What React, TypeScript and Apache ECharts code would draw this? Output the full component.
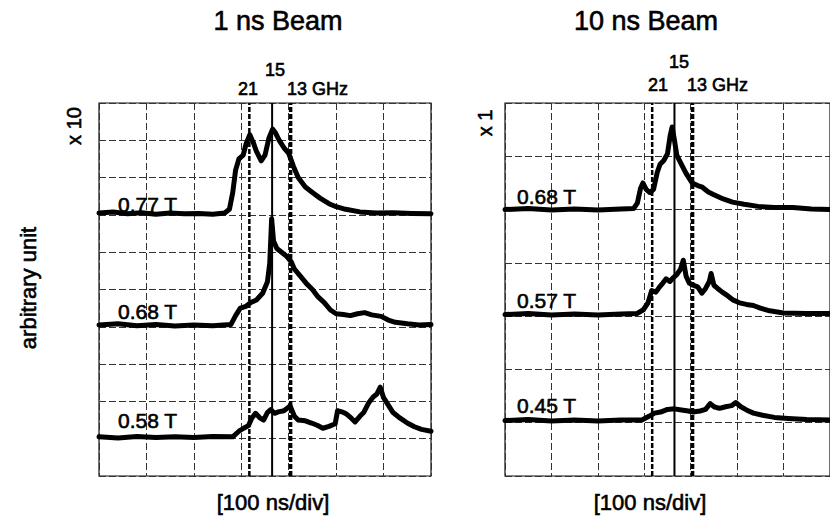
import React, { useEffect, useRef } from "react";
import * as echarts from "echarts";

// ---- data (x in divisions of 100 ns, y in vertical divisions) ----
const markerX = [3.17, 3.65, 4.04]; // 21 GHz, 15 GHz, 13 GHz

const left077: [number, number][] = [[0,7.05],[0.3,7.08],[0.6,7.03],[0.9,7.06],[1.2,7.02],[1.5,7.05],[1.8,7.03],[2.1,7.04],[2.4,7.02],[2.65,7.05],[2.75,7.15],[2.82,7.6],[2.88,8.2],[2.95,8.5],[3.04,8.6],[3.1,8.9],[3.18,9.15],[3.25,8.95],[3.32,8.7],[3.42,8.45],[3.5,8.6],[3.58,9.05],[3.66,9.3],[3.72,9.2],[3.8,9.0],[3.9,8.8],[4.0,8.65],[4.1,8.3],[4.2,8.0],[4.35,7.75],[4.5,7.6],[4.66,7.45],[4.85,7.3],[5.0,7.22],[5.2,7.15],[5.5,7.08],[5.85,7.05],[6.2,7.06],[6.6,7.04],[7.0,7.03]];
const left068: [number, number][] = [[0,4.05],[0.4,4.08],[0.8,4.03],[1.2,4.06],[1.6,4.02],[2.0,4.05],[2.4,4.03],[2.78,4.06],[2.88,4.3],[2.98,4.5],[3.1,4.55],[3.2,4.65],[3.32,4.72],[3.45,4.9],[3.55,5.2],[3.6,5.7],[3.64,6.9],[3.68,6.3],[3.75,6.1],[3.85,6.0],[3.95,5.9],[4.05,5.75],[4.12,5.55],[4.25,5.35],[4.38,5.15],[4.5,5.0],[4.62,4.8],[4.75,4.65],[4.88,4.45],[5.0,4.35],[5.15,4.33],[5.3,4.3],[5.45,4.35],[5.6,4.38],[5.75,4.32],[5.95,4.28],[6.1,4.18],[6.25,4.12],[6.5,4.08],[6.75,4.05],[7.0,4.06]];
const left058: [number, number][] = [[0,1.05],[0.4,1.02],[0.8,1.06],[1.2,1.03],[1.6,1.05],[2.0,1.03],[2.4,1.06],[2.82,1.05],[2.95,1.2],[3.05,1.28],[3.15,1.35],[3.22,1.55],[3.3,1.68],[3.4,1.55],[3.47,1.5],[3.55,1.7],[3.62,1.78],[3.7,1.68],[3.78,1.72],[3.9,1.75],[4.03,1.88],[4.12,1.6],[4.2,1.5],[4.35,1.48],[4.48,1.42],[4.6,1.36],[4.72,1.28],[4.85,1.33],[4.98,1.4],[5.03,1.75],[5.12,1.72],[5.22,1.66],[5.32,1.55],[5.4,1.45],[5.5,1.6],[5.58,1.7],[5.68,1.95],[5.78,2.12],[5.86,2.2],[5.93,2.38],[6.0,2.1],[6.1,1.9],[6.2,1.7],[6.35,1.55],[6.5,1.42],[6.65,1.32],[6.8,1.25],[7.0,1.2]];

const right068: [number, number][] = [[0,5.0],[0.5,5.02],[1.0,4.99],[1.5,5.01],[2.0,4.99],[2.5,5.01],[2.77,5.02],[2.85,5.12],[2.92,5.4],[2.97,5.5],[3.04,5.38],[3.12,5.32],[3.2,5.38],[3.28,5.7],[3.34,5.85],[3.42,5.92],[3.5,6.05],[3.56,6.4],[3.6,6.55],[3.65,6.3],[3.7,6.02],[3.8,5.85],[3.9,5.68],[4.03,5.5],[4.15,5.45],[4.25,5.42],[4.38,5.33],[4.5,5.28],[4.7,5.2],[4.9,5.14],[5.15,5.1],[5.45,5.06],[5.8,5.04],[6.2,5.04],[6.6,5.01],[7,5.0]];
const right057: [number, number][] = [[0,3.03],[0.5,3.05],[1.0,3.02],[1.5,3.04],[2.0,3.02],[2.5,3.04],[2.85,3.05],[2.98,3.12],[3.08,3.25],[3.16,3.48],[3.25,3.45],[3.33,3.55],[3.4,3.62],[3.47,3.7],[3.55,3.65],[3.62,3.72],[3.7,3.78],[3.78,3.88],[3.84,4.05],[3.9,3.75],[3.97,3.62],[4.05,3.58],[4.15,3.55],[4.24,3.43],[4.32,3.52],[4.4,3.65],[4.44,3.8],[4.5,3.58],[4.58,3.52],[4.68,3.45],[4.8,3.38],[4.92,3.3],[5.05,3.25],[5.2,3.22],[5.35,3.2],[5.5,3.15],[5.7,3.1],[6.0,3.06],[6.5,3.05],[7,3.05]];
const right045: [number, number][] = [[0,1.04],[0.5,1.06],[1.0,1.03],[1.5,1.05],[2.0,1.03],[2.5,1.05],[2.95,1.05],[3.1,1.12],[3.22,1.18],[3.35,1.2],[3.5,1.25],[3.65,1.26],[3.8,1.24],[3.95,1.22],[4.05,1.2],[4.2,1.22],[4.32,1.25],[4.42,1.36],[4.5,1.3],[4.62,1.27],[4.75,1.3],[4.88,1.32],[4.97,1.38],[5.08,1.3],[5.2,1.24],[5.35,1.18],[5.55,1.14],[5.8,1.1],[6.1,1.08],[6.5,1.06],[7,1.05]];

const titles = ["1 ns Beam", "10 ns Beam"];
const freqLabels = ["21", "15", "13 GHz"];
const scaleLabels = ["x 10", "x 1"];
const leftTraceLabels = ["0.77 T", "0.68 T", "0.58 T"];
const rightTraceLabels = ["0.68 T", "0.57 T", "0.45 T"];
const yMax = [10, 7];
const xLabel = "[100 ns/div]";
const yLabel = "arbitrary unit";

const FONT = "'Liberation Sans', Arial, Helvetica, sans-serif";

export default function App() {
  const ref = useRef<HTMLDivElement>(null);
  useEffect(() => {
    if (!ref.current) return;
    const chart = echarts.init(ref.current, null, { renderer: "svg" });

    const gridLine = { show: true, lineStyle: { color: "#333", width: 1, type: [7, 3] as any } };
    const mkAxisX = (gi: number) => ({
      type: "value", gridIndex: gi, min: 0, max: 7, interval: 1,
      axisLine: { show: false }, axisTick: { show: false }, axisLabel: { show: false },
      splitLine: gridLine,
    });
    const mkAxisY = (gi: number) => ({
      type: "value", gridIndex: gi, min: 0, max: yMax[gi], interval: 1,
      axisLine: { show: false }, axisTick: { show: false }, axisLabel: { show: false },
      splitLine: gridLine,
    });

    const traceSeries = (data: [number, number][], gi: number) => ({
      type: "line", xAxisIndex: gi, yAxisIndex: gi, data, symbol: "none", smooth: false,
      lineStyle: { color: "#000", width: 5, join: "round", cap: "round" }, z: 5,
    });
    const markerStyles = [
      { width: 2.5, type: [5, 2] },
      { width: 2, type: "solid" },
      { width: 3.5, type: [5, 2] },
    ];
    const markerSeries = (gi: number) =>
      markerX.map((x, i) => ({
        type: "line", xAxisIndex: gi, yAxisIndex: gi, symbol: "none",
        data: [[x, 0], [x, yMax[gi]]],
        lineStyle: { color: "#000", ...markerStyles[i] }, z: 4,
      }));

    const txt = (text: string, x: number, y: number, size: number, align = "center", rotation = 0, stroke = 0.6) => ({
      type: "text", x, y, rotation, z: 100,
      style: {
        text, font: `${size}px ${FONT}`, fill: "#000", stroke: "#000", lineWidth: stroke,
        textAlign: align, textVerticalAlign: "middle",
      },
    });

    const option: any = {
      animation: false,
      backgroundColor: "#fff",
      grid: [
        { left: 99, top: 103, width: 332, height: 373, show: true, borderColor: "#111", borderWidth: 1.2, backgroundColor: "transparent" },
        { left: 505, top: 103, width: 333, height: 373, show: true, borderColor: "#111", borderWidth: 1.2, backgroundColor: "transparent" },
      ],
      xAxis: [mkAxisX(0), mkAxisX(1)],
      yAxis: [mkAxisY(0), mkAxisY(1)],
      series: [
        ...markerSeries(0),
        ...markerSeries(1),
        traceSeries(left077, 0),
        traceSeries(left068, 0),
        traceSeries(left058, 0),
        traceSeries(right068, 1),
        traceSeries(right057, 1),
        traceSeries(right045, 1),
      ],
      graphic: [
        txt(titles[0], 278, 21, 27),
        txt(titles[1], 646, 21, 27),
        txt(freqLabels[1], 275, 70, 18),
        txt(freqLabels[0], 248, 89, 18),
        txt(freqLabels[2], 287, 89, 18, "left"),
        txt(freqLabels[1], 679, 62, 18),
        txt(freqLabels[0], 658, 85, 18),
        txt(freqLabels[2], 687, 85, 18, "left"),
        txt(scaleLabels[0], 74, 126, 20, "center", Math.PI / 2),
        txt(scaleLabels[1], 485, 123, 20, "center", Math.PI / 2),
        txt(yLabel, 28, 288, 22, "center", Math.PI / 2),
        txt(xLabel, 273, 502, 22),
        txt(xLabel, 650, 502, 22),
        txt(leftTraceLabels[0], 118, 204, 21, "left"),
        txt(leftTraceLabels[1], 118, 311, 21, "left"),
        txt(leftTraceLabels[2], 118, 420, 21, "left"),
        txt(rightTraceLabels[0], 517, 196, 21, "left"),
        txt(rightTraceLabels[1], 517, 300, 21, "left"),
        txt(rightTraceLabels[2], 517, 405, 21, "left"),
      ],
    };
    chart.setOption(option);
    return () => chart.dispose();
  }, []);
  return (
    <div
      ref={ref}
      style={{ position: "fixed", left: 0, top: 0, width: 830, height: 522, background: "#fff" }}
    />
  );
}
